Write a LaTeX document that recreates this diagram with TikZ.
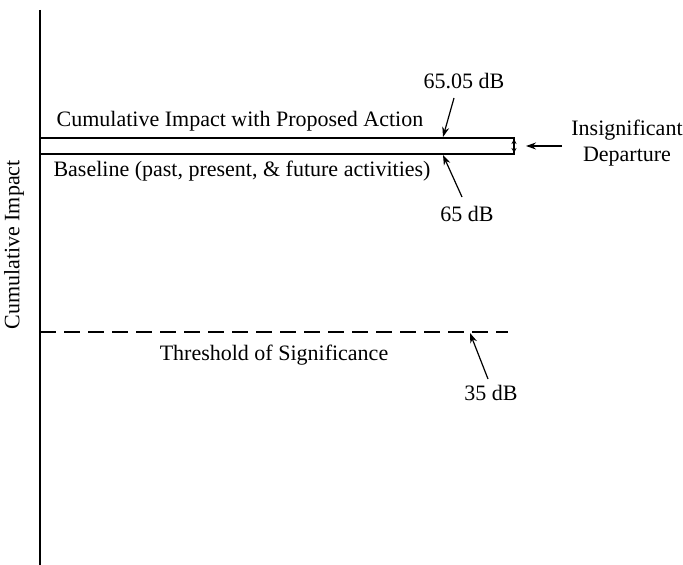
\documentclass[tikz,border=0pt]{standalone}
\usepackage{fontspec}
\setmainfont{Liberation Serif}
\usetikzlibrary{arrows.meta, positioning}

\begin{document}
\begin{tikzpicture}[
  x=0.5pt, y=-0.5pt,
  lbl/.style={font=\fontsize{11}{13}\selectfont, inner sep=1pt, align=center},
  ptr/.style={-{Stealth[length=5pt, width=3.5pt]}, semithick},
  band/.style={draw, semithick}
]
\useasboundingbox (0,0) rectangle (683,565);

%% ---- axis ----
\coordinate (axtop) at (40,10);
\coordinate (axbot) at (40,565);
\draw[semithick] (axtop) -- (axbot);
\node[lbl, rotate=90] (ylab) at (14,245) {Cumulative Impact};

%% ---- band: baseline and proposed action ----
\coordinate (bandNW) at (40,138);
\coordinate (bandSE) at (514,154);
\draw[band] (bandNW) rectangle (bandSE);
\draw[{Stealth[length=2.5pt, width=2.5pt]}-{Stealth[length=2.5pt, width=2.5pt]}, thin]
  (514,139) -- (514,153);

\node[lbl] (cum) at (240,121) {Cumulative Impact with Proposed Action};
\node[lbl] (base) at (242,171) {Baseline (past, present, \& future activities)};

\node[lbl] (top) at (464,81) {65.05 dB};
\node[lbl] (bot) at (467,214) {65 dB};
\coordinate (topstart) at (454,98);
\coordinate (topend) at (443,137);
\coordinate (botstart) at (462,197);
\coordinate (botend) at (443,155);
\draw[ptr] (topstart) -- (topend);
\draw[ptr] (botstart) -- (botend);

\node[lbl] (dep) at (627,143) {Insignificant\\Departure};
\coordinate (depstart) at (562,146);
\coordinate (depend) at (526,146);
\draw[ptr] (depstart) -- (depend);

%% ---- threshold ----
\coordinate (thrL) at (40,332);
\coordinate (thrR) at (508,332);
\draw[semithick, dash pattern=on 8pt off 4pt] (thrL) -- (thrR);
\node[lbl] (thr) at (274,355) {Threshold of Significance};
\node[lbl] (tdb) at (491,393) {35 dB};
\coordinate (thrstart) at (488,379);
\coordinate (thrend) at (470,333);
\draw[ptr] (thrstart) -- (thrend);

\end{tikzpicture}
\end{document}
